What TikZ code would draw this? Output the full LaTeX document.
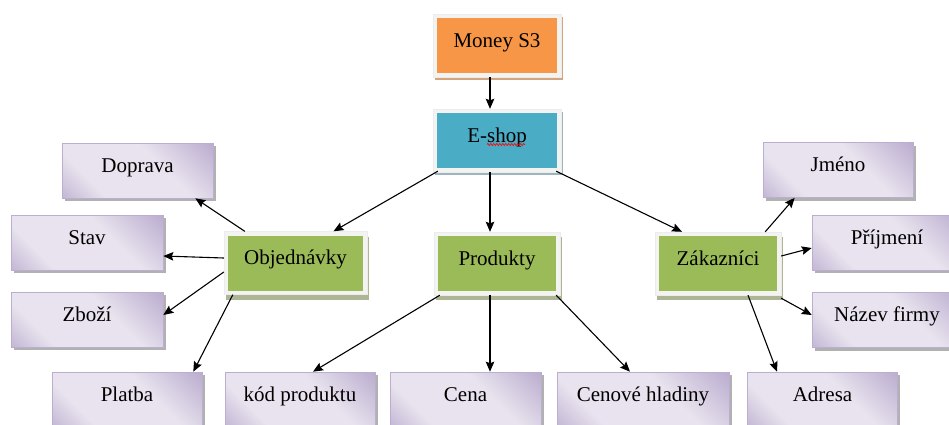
\documentclass[tikz,border=0pt]{standalone}
\usepackage{fontspec}
\setmainfont{Liberation Serif}
\usetikzlibrary{arrows.meta,shadows,calc,decorations.pathmorphing}
\definecolor{orangeF}{HTML}{F79646}
\definecolor{orangeS}{HTML}{D6A47C}
\definecolor{tealF}{HTML}{4BACC6}
\definecolor{tealS}{HTML}{9CB5C0}
\definecolor{greenF}{HTML}{9BBB59}
\definecolor{greenS}{HTML}{ADB595}
\definecolor{frameC}{HTML}{F3F3F1}
\definecolor{pdk}{HTML}{A08DBD}
\definecolor{plt}{HTML}{E8E3EE}
\definecolor{pborder}{HTML}{BBAED0}
\definecolor{pshadow}{HTML}{A9A9A9}
\pgfdeclarehorizontalshading{purpsh}{100bp}{color(0bp)=(pdk); color(30bp)=(plt); color(60bp)=(plt); color(100bp)=(pdk)}
\tikzset{
  txt/.style={font=\fontsize{21}{24}\selectfont, text height=14pt, text depth=11pt, inner sep=0pt},
  topbox/.style={txt, fill=frameC, draw=gray!15, line width=0.4pt,
    minimum width=#1, minimum height=63pt},
  innerfill/.style={path picture={\fill[#1] ([shift={(4pt,-4pt)}]path picture bounding box.north west) rectangle ([shift={(-4pt,4pt)}]path picture bounding box.south east);}},
  moneybox/.style={topbox=128pt, innerfill=orangeF, drop shadow={shadow xshift=2pt, shadow yshift=-3pt, fill=orangeS, opacity=1}},
  eshopbox/.style={topbox=128pt, innerfill=tealF, drop shadow={shadow xshift=2pt, shadow yshift=-3pt, fill=tealS, opacity=1}},
  greenbox/.style={topbox=#1, innerfill=greenF, drop shadow={shadow xshift=2pt, shadow yshift=-5pt, fill=greenS, opacity=1}},
  leafbox/.style={txt, draw=pborder, line width=0.6pt, shading=purpsh, shading angle=45,
    minimum width=#1, minimum height=55pt,
    drop shadow={shadow xshift=2.5pt, shadow yshift=-3pt, fill=pshadow, opacity=0.9}},
  arr/.style={line width=1.1pt, -{Stealth[length=10pt,width=8.5pt,inset=1.5pt]}}
}
\begin{document}
\begin{tikzpicture}[x=1pt,y=1pt]
\fill[white] (0,0) rectangle (949,-424);
\useasboundingbox (0,0) rectangle (949,-424);
% top boxes
\node[moneybox] (money) at (497,-45.5) {Money S3};
\node[eshopbox] (eshop) at (497,-140.5) {E-shop};
\draw[red, line width=0.6pt, decorate, decoration={zigzag, amplitude=1.1pt, segment length=3pt}]
  ($(eshop.center)+(-10,-4)$) -- ($(eshop.center)+(28,-4)$);
% middle boxes
\node[greenbox=143pt] (obj) at (295.5,-263) {Objednávky};
\node[greenbox=126pt] (prod) at (497,-263.5) {Produkty};
\node[greenbox=126pt] (zak) at (718,-263.5) {Zákazníci};
% leaves
\node[leafbox=151pt] (doprava) at (137.5,-170.5) {Doprava};
\node[leafbox=152pt] (stav) at (87,-242.5) {Stav};
\node[leafbox=152pt] (zbozi) at (87,-319.5) {Zboží};
\node[leafbox=150pt] (platba) at (127,-399.5) {Platba};
\node[leafbox=150pt] (kod) at (300,-399.5) {kód produktu};
\node[leafbox=151pt] (cena) at (465.5,-399.5) {Cena};
\node[leafbox=172pt] (cenhl) at (643,-399.5) {Cenové hladiny};
\node[leafbox=150pt] (adresa) at (822.5,-399.5) {Adresa};
\node[leafbox=150pt] (jmeno) at (838,-170) {Jméno};
\node[leafbox=150pt] (prijmeni) at (887,-242.5) {Příjmení};
\node[leafbox=150pt] (nazev) at (887,-320) {Název firmy};
% connectors
\draw[arr] ([xshift=-7pt]money.south) -- ([xshift=-7pt]eshop.north);
\draw[arr] ([xshift=5pt,yshift=1pt]eshop.south west) -- ([xshift=38pt]obj.north);
\draw[arr] ([xshift=-7pt]eshop.south) -- ([xshift=-7pt]prod.north);
\draw[arr] ([xshift=-5pt,yshift=1pt]eshop.south east) -- ([xshift=-36pt]zak.north);
\draw[arr] ([xshift=21pt]obj.north west) -- ([xshift=-18pt]doprava.south east);
\draw[arr] ([yshift=5pt]obj.west) -- ([yshift=-13.5pt]stav.east);
\draw[arr] ([yshift=-9pt]obj.west) -- ([yshift=4.5pt]zbozi.east);
\draw[arr] ([xshift=9pt]obj.south west) -- ([xshift=-9pt]platba.north east);
\draw[arr] ([xshift=6pt]prod.south west) -- ([xshift=13pt]kod.north);
\draw[arr] ([xshift=-7pt]prod.south) -- ([xshift=24.5pt]cena.north);
\draw[arr] ([xshift=-4pt]prod.south east) -- ([xshift=-13pt]cenhl.north);
\draw[arr] ([xshift=-16pt]zak.north east) -- ([xshift=32pt]jmeno.south west);
\draw[arr] ([yshift=7.5pt]zak.east) -- ([yshift=-5.5pt]prijmeni.west);
\draw[arr] ([yshift=-3pt]zak.south east) -- ([yshift=5pt]nazev.west);
\draw[arr] ([xshift=30pt]zak.south) -- ([xshift=-45.5pt]adresa.north);
\end{tikzpicture}
\end{document}
